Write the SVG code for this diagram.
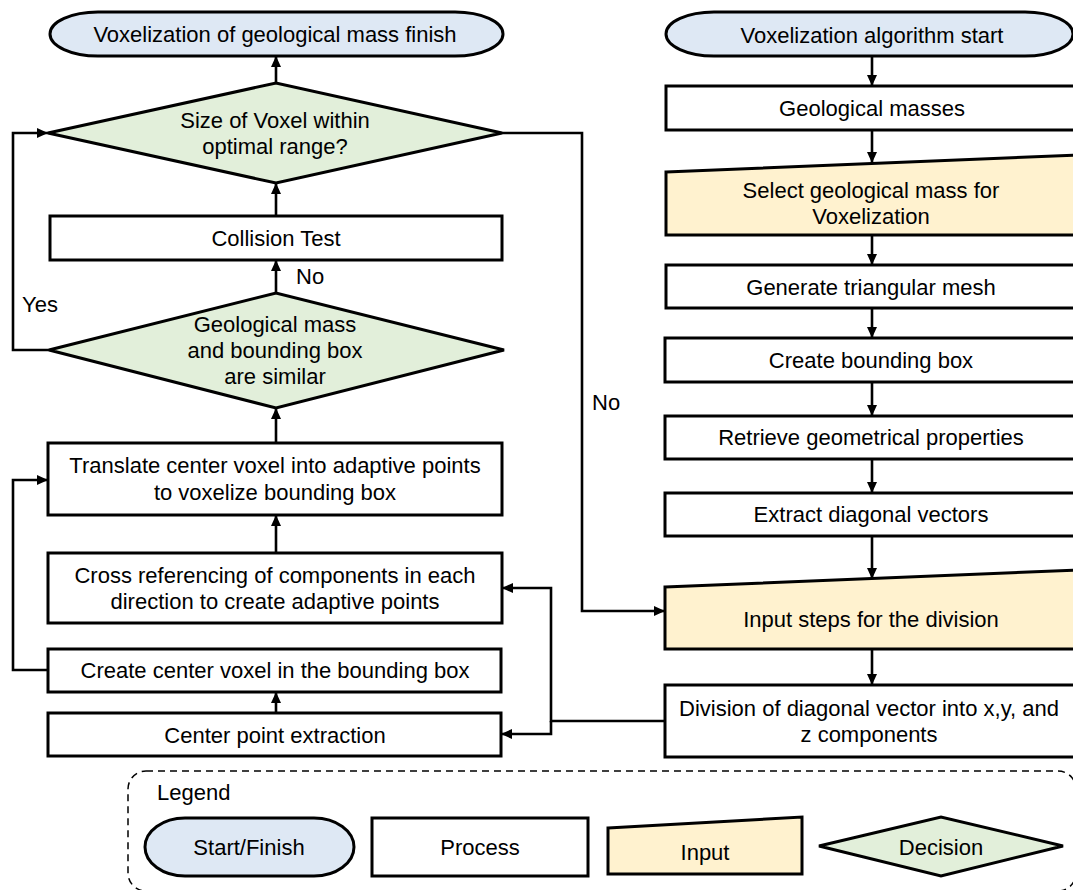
<svg xmlns="http://www.w3.org/2000/svg" width="1073" height="890" viewBox="0 0 1073 890">
  <style>
    text { font-family: "Liberation Sans", Arial, sans-serif; font-size: 22px; fill: #000; text-anchor: middle; }
    .lbl { text-anchor: start; }
    .box { fill: #fff; stroke: #000; stroke-width: 3; }
    .term { fill: #dee8f4; stroke: #000; stroke-width: 3; }
    .input { fill: #fff2cf; stroke: #000; stroke-width: 3; }
    .dec { fill: #e2efda; stroke: #000; stroke-width: 3; }
    .conn { fill: none; stroke: #000; stroke-width: 2.6; marker-end: url(#arrow); }
    .legend-frame { fill: none; stroke: #000; stroke-width: 1.5; stroke-dasharray: 7 5; }
  </style>
  <defs>
    <marker id="arrow" markerUnits="userSpaceOnUse" markerWidth="12" markerHeight="11" refX="11" refY="5" orient="auto">
      <path d="M0,0 L11,5 L0,10 z" fill="#000"/>
    </marker>
  </defs>

  <!-- connectors -->
  <g id="connectors">
    <!-- right column, top to bottom -->
    <line class="conn" x1="872" y1="56" x2="872" y2="86"/>
    <line class="conn" x1="872" y1="130" x2="872" y2="163"/>
    <line class="conn" x1="872" y1="235" x2="872" y2="265"/>
    <line class="conn" x1="872" y1="308" x2="872" y2="338"/>
    <line class="conn" x1="872" y1="382" x2="872" y2="416"/>
    <line class="conn" x1="872" y1="459" x2="872" y2="493"/>
    <line class="conn" x1="872" y1="536" x2="872" y2="579"/>
    <line class="conn" x1="872" y1="649" x2="872" y2="685"/>
    <!-- division feeds both left boxes -->
    <path class="conn" d="M665,721 H551 V588 H502"/>
    <path class="conn" d="M551,721 V734 H501"/>
    <!-- left column, bottom to top -->
    <line class="conn" x1="276" y1="713" x2="276" y2="692"/>
    <path class="conn" d="M48,670 H13 V480 H48"/>
    <line class="conn" x1="276" y1="553" x2="276" y2="515"/>
    <line class="conn" x1="276" y1="443" x2="276" y2="408"/>
    <line class="conn" x1="276" y1="293" x2="276" y2="260"/>
    <line class="conn" x1="276" y1="216" x2="276" y2="183"/>
    <line class="conn" x1="276" y1="83" x2="276" y2="56"/>
    <path class="conn" d="M49,350 H13 V133 H48"/>
    <path class="conn" d="M502,133 H582 V611 H665"/>
    <text class="lbl" x="296" y="284">No</text>
    <text class="lbl" x="22" y="312">Yes</text>
    <text class="lbl" x="592" y="410">No</text>
  </g>

  <!-- right column -->
  <g id="start">
    <rect class="term" x="666" y="12" width="407" height="44" rx="48" ry="22"/>
    <text x="872" y="43">Voxelization algorithm start</text>
  </g>
  <g id="geological-masses">
    <rect class="box" x="666" y="86" width="412" height="44"/>
    <text x="872" y="116">Geological masses</text>
  </g>
  <g id="select-mass">
    <polygon class="input" points="666,172 1078,155 1078,235 666,235"/>
    <text x="871" y="198">Select geological mass for</text>
    <text x="871" y="224">Voxelization</text>
  </g>
  <g id="triangular-mesh">
    <rect class="box" x="666" y="265" width="412" height="43"/>
    <text x="871" y="295">Generate triangular mesh</text>
  </g>
  <g id="bounding-box">
    <rect class="box" x="665" y="338" width="413" height="44"/>
    <text x="871" y="368">Create bounding box</text>
  </g>
  <g id="geometrical-properties">
    <rect class="box" x="665" y="416" width="413" height="43"/>
    <text x="871" y="445">Retrieve geometrical properties</text>
  </g>
  <g id="diagonal-vectors">
    <rect class="box" x="665" y="493" width="413" height="43"/>
    <text x="871" y="522">Extract diagonal vectors</text>
  </g>
  <g id="input-steps">
    <polygon class="input" points="665,587 1078,570 1078,649 665,649"/>
    <text x="871" y="627">Input steps for the division</text>
  </g>
  <g id="division">
    <rect class="box" x="665" y="685" width="413" height="72"/>
    <text x="869" y="716">Division of diagonal vector into x,y, and</text>
    <text x="869" y="742">z components</text>
  </g>

  <!-- left column -->
  <g id="finish">
    <rect class="term" x="50" y="12" width="453" height="44" rx="48" ry="22"/>
    <text x="275" y="42">Voxelization of geological mass finish</text>
  </g>
  <g id="size-check">
    <polygon class="dec" points="48,133 276,83 502,133 276,183"/>
    <text x="275" y="128">Size of Voxel within</text>
    <text x="275" y="154">optimal range?</text>
  </g>
  <g id="collision-test">
    <rect class="box" x="50" y="216" width="452" height="44"/>
    <text x="276" y="246">Collision Test</text>
  </g>
  <g id="similarity-check">
    <polygon class="dec" points="49,350 276,293 504,350 276,408"/>
    <text x="275" y="332">Geological mass</text>
    <text x="275" y="358">and bounding box</text>
    <text x="275" y="384">are similar</text>
  </g>
  <g id="translate-voxel">
    <rect class="box" x="48" y="443" width="454" height="72"/>
    <text x="275" y="473">Translate center voxel into adaptive points</text>
    <text x="275" y="500">to voxelize bounding box</text>
  </g>
  <g id="cross-referencing">
    <rect class="box" x="48" y="553" width="454" height="70"/>
    <text x="275" y="583">Cross referencing of components in each</text>
    <text x="275" y="609">direction to create adaptive points</text>
  </g>
  <g id="center-voxel">
    <rect class="box" x="48" y="649" width="453" height="43"/>
    <text x="275" y="678">Create center voxel in the bounding box</text>
  </g>
  <g id="center-point">
    <rect class="box" x="48" y="713" width="453" height="43"/>
    <text x="275" y="743">Center point extraction</text>
  </g>

  <!-- legend -->
  <g id="legend">
    <rect class="legend-frame" x="128" y="771" width="948" height="120" rx="18" ry="18"/>
    <text class="lbl" x="157" y="800">Legend</text>
    <rect class="term" x="145" y="818" width="209" height="58" rx="40" ry="29"/>
    <text x="249" y="855">Start/Finish</text>
    <rect class="box" x="372" y="818" width="216" height="58"/>
    <text x="480" y="855">Process</text>
    <polygon class="input" points="608,828 802,817 802,874 608,874"/>
    <text x="705" y="860">Input</text>
    <polygon class="dec" points="819,846 941,817 1063,846 941,876"/>
    <text x="941" y="855">Decision</text>
  </g>
</svg>
